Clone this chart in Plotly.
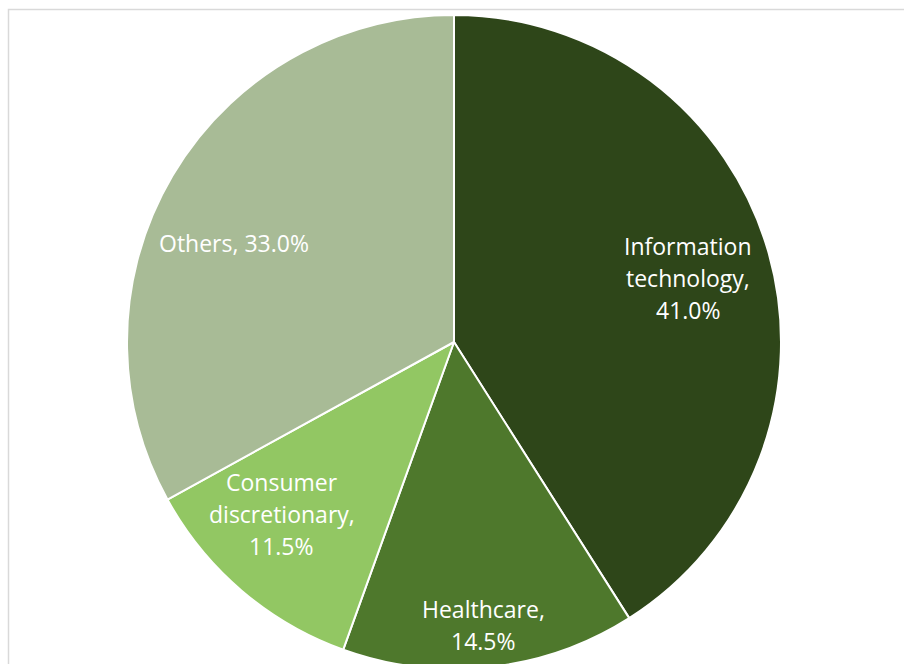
import math
import plotly.graph_objects as go

# Sector weights of the portfolio
sectors = ["Information technology", "Healthcare", "Consumer discretionary", "Others"]
label_lines = [["Information", "technology,"], ["Healthcare,"], ["Consumer", "discretionary,"], ["Others,"]]
weights = [41.0, 14.5, 11.5, 33.0]
colors = ["#2E4619", "#4E782C", "#92C763", "#A8BB96"]

# Label placement: fraction of radius, angular nudge in degrees
label_radius = [0.742, 0.87, 0.744, 0.737]
label_nudge = [0.9, 0.3, 4.5, -6.4]

W, H = 904, 680
CX, CY, R = 454, 342, 327  # pie centre and radius in pixels
LINE_H = 32                 # label line pitch in pixels

fig = go.Figure(
    go.Pie(
        labels=sectors,
        values=weights,
        sort=False,
        direction="clockwise",
        rotation=0,
        marker=dict(colors=colors, line=dict(color="white", width=2)),
        textinfo="none",
        hoverinfo="label+percent",
        showlegend=False,
        domain=dict(
            x=[(CX - R) / W, (CX + R) / W],
            y=[1 - (CY + R) / H, 1 - (CY - R) / H],
        ),
    )
)

total = sum(weights)
start = 0.0
annotations = []
for name, lines, v, rf, nudge in zip(sectors, label_lines, weights, label_radius, label_nudge):
    mid = (start + v / 2) / total * 360 + nudge
    start += v
    px = CX + rf * R * math.sin(math.radians(mid))
    py = CY - rf * R * math.cos(math.radians(mid))
    pct = f"{v:.1f}%"
    if name == "Others":
        rows = [f"{lines[0]} {pct}"]
    else:
        rows = lines + [pct]
    n = len(rows)
    for i, row in enumerate(rows):
        ly = py + (i - (n - 1) / 2) * LINE_H
        annotations.append(
            dict(
                x=px / W,
                y=1 - ly / H,
                xref="paper",
                yref="paper",
                text=row,
                showarrow=False,
                xanchor="center",
                yanchor="middle",
                align="center",
                font=dict(family="Open Sans", size=23, color="white"),
            )
        )

fig.update_layout(
    width=W,
    height=H,
    margin=dict(l=0, r=0, t=0, b=0),
    paper_bgcolor="white",
    plot_bgcolor="white",
    annotations=annotations,
    shapes=[
        dict(
            type="rect",
            xref="paper",
            yref="paper",
            x0=8.5 / W,
            x1=1.05,
            y0=-0.05,
            y1=1 - 9.5 / H,
            line=dict(color="#D9D9D9", width=1.5),
            fillcolor="rgba(0,0,0,0)",
            layer="below",
        )
    ],
)

fig.write_html(
    "out.html",
    post_script="document.documentElement.style.overflow='hidden';document.body.style.overflow='hidden';",
)
